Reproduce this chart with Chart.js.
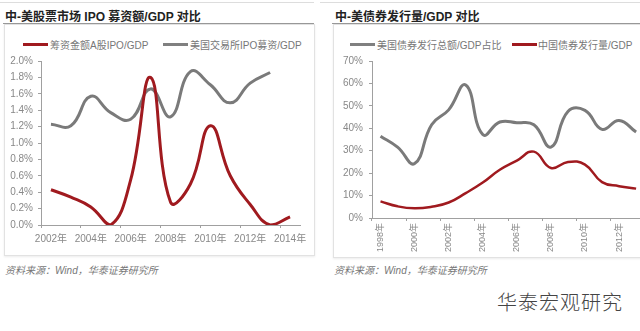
<!DOCTYPE html>
<html>
<head>
<meta charset="utf-8">
<script src="https://cdn.jsdelivr.net/npm/chart.js@4/dist/chart.umd.min.js"></script>
<style>
  html, body { margin: 0; padding: 0; background: #fff; }
  body { width: 640px; height: 331px; overflow: hidden; position: relative; font-family: "Liberation Sans", "Noto Sans CJK SC", sans-serif; }
  .abs { position: absolute; }
  .rule { position: absolute; height: 1px; }
  .title { position: absolute; top: 7px; font-size: 12px; font-weight: bold; color: #222; white-space: pre; }
  .box { position: absolute; border: 1px solid #e2e2e2; box-shadow: 0 1px 2px rgba(0,0,0,0.08); }
  .key { position: absolute; height: 3px; width: 25px; top: 43px; }
  .keytext { position: absolute; top: 37px; font-size: 10px; color: #777; white-space: nowrap; }
  .source { position: absolute; top: 262px; font-size: 10px; color: #777; font-style: italic; white-space: nowrap; }
  .mark { position: absolute; left: 497px; top: 287px; font-size: 20px; color: #444; font-family: "Noto Sans CJK SC", sans-serif; font-weight: 300; letter-spacing: 1px; }
  canvas { position: absolute; }
</style>
</head>
<body>
<div class="rule" style="left:0;top:2px;width:314px;background:#ddd"></div>
<div class="rule" style="left:320px;top:2px;width:320px;background:#ddd"></div>
<div class="title" style="left:5px">中-美股票市场 IPO 募资额/GDP 对比</div>
<div class="title" style="left:335px">中-美债券发行量/GDP 对比</div>
<div class="rule" style="left:3px;top:23px;width:311px;background:#999"></div>
<div class="rule" style="left:332px;top:23px;width:308px;background:#999"></div>
<div class="box" style="left:4px;top:24px;width:309px;height:230px"></div>
<div class="box" style="left:333px;top:24px;width:320px;height:232px"></div>

<div class="key" style="left:23px;background:#a01a1f"></div>
<div class="keytext" style="left:50px">筹资金额A股IPO/GDP</div>
<div class="key" style="left:163px;background:#808080"></div>
<div class="keytext" style="left:190px">美国交易所IPO募资/GDP</div>
<div class="key" style="left:350px;background:#808080"></div>
<div class="keytext" style="left:377px">美国债券发行总额/GDP占比</div>
<div class="key" style="left:512px;background:#a01a1f"></div>
<div class="keytext" style="left:538px">中国债券发行量/GDP</div>

<canvas id="ipoChart" width="308" height="226" style="left:5px;top:26px"></canvas>
<canvas id="bondChart" width="316" height="230" style="left:333px;top:26px"></canvas>

<div class="source" style="left:5px">资料来源：Wind，华泰证券研究所</div>
<div class="source" style="left:334px">资料来源：Wind，华泰证券研究所</div>
<div class="mark">华泰宏观研究</div>

<script>
// IPO proceeds / GDP, %
const ipoYears = ['2002年', '2003年', '2004年', '2005年', '2006年', '2007年', '2008年',
                  '2009年', '2010年', '2011年', '2012年', '2013年', '2014年'];
const aShareIpo = [0.43, 0.34, 0.22, 0.0, 0.55, 1.80, 0.28, 0.50, 1.21, 0.60, 0.25, 0.0, 0.10];
const usIpo = [1.23, 1.21, 1.57, 1.37, 1.29, 1.66, 1.32, 1.87, 1.71, 1.49, 1.73, 1.86, null];

// bond issuance / GDP, %
const bondYears = ['1998年', '1999年', '2000年', '2001年', '2002年', '2003年', '2004年', '2005年',
                   '2006年', '2007年', '2008年', '2009年', '2010年', '2011年', '2012年', '2013年'];
const usBond = [36.5, 31.6, 24.3, 41.6, 48.2, 59.3, 37.2, 42.8, 42.5, 41.6, 31.6, 47.5, 48.0, 39.5, 43.5, 38.3];
const cnBond = [7.4, 5.2, 4.3, 5.0, 6.9, 11.1, 15.8, 21.5, 25.6, 29.6, 22.3, 25.0, 23.8, 16.0, 14.2, 13.1];

const RED = '#a01a1f';
const GREY = '#7a7a7a';
const AXIS = '#a0a0a0';
const tickFont = { family: '"Liberation Sans", "Noto Sans CJK SC", sans-serif', size: 10 };

function lineSet(label, data, color, width) {
    return {
        label: label,
        data: data,
        borderColor: color,
        backgroundColor: color,
        borderWidth: width,
        pointRadius: 0,
        tension: 0.45,
        fill: false,
        spanGaps: false
    };
}

// every second category boundary gets a tick mark
const everyOther = ctx => (ctx.index % 2 === 0 ? AXIS : 'rgba(0,0,0,0)');

new Chart(document.getElementById('ipoChart'), {
    type: 'line',
    data: {
        labels: ipoYears,
        datasets: [
            lineSet('筹资金额A股IPO/GDP', aShareIpo, RED, 3),
            lineSet('美国交易所IPO募资/GDP', usIpo, GREY, 3)
        ]
    },
    options: {
        responsive: false,
        animation: false,
        layout: { padding: { top: 35, right: 13, left: 0, bottom: 0 } },
        plugins: { legend: { display: false }, tooltip: { enabled: false } },
        scales: {
            x: {
                offset: true,
                grid: { offset: true, drawOnChartArea: false, tickLength: 3, tickColor: everyOther },
                border: { color: AXIS },
                ticks: {
                    autoSkip: false, maxRotation: 0, padding: 5, color: '#888', font: tickFont,
                    callback: function (v, i) { return i % 2 === 0 ? this.getLabelForValue(v) : ''; }
                },
                afterFit: s => { s.height = 27; }
            },
            y: {
                min: 0, max: 2.0,
                grid: { drawOnChartArea: false, tickLength: 3, tickColor: AXIS },
                border: { color: AXIS },
                ticks: { stepSize: 0.2, padding: 5, color: '#888', font: tickFont, callback: v => v.toFixed(1) + '%' },
                afterFit: s => { s.width = 36; }
            }
        }
    }
});

new Chart(document.getElementById('bondChart'), {
    type: 'line',
    data: {
        labels: bondYears,
        datasets: [
            lineSet('美国债券发行总额/GDP占比', usBond, GREY, 3),
            lineSet('中国债券发行量/GDP', cnBond, RED, 2.5)
        ]
    },
    options: {
        responsive: false,
        animation: false,
        layout: { padding: { top: 35, right: 3, left: 0, bottom: 0 } },
        plugins: { legend: { display: false }, tooltip: { enabled: false } },
        scales: {
            x: {
                offset: true,
                grid: { offset: true, drawOnChartArea: false, tickLength: 3, tickColor: everyOther },
                border: { color: AXIS },
                ticks: {
                    autoSkip: false, minRotation: 90, maxRotation: 90, padding: 2, color: '#888',
                    font: { family: tickFont.family, size: 9 },
                    callback: function (v, i) { return i % 2 === 0 ? this.getLabelForValue(v) : ''; }
                },
                afterFit: s => { s.height = 38; }
            },
            y: {
                min: 0, max: 70,
                grid: { drawOnChartArea: false, tickLength: 3, tickColor: AXIS },
                border: { color: AXIS },
                ticks: { stepSize: 10, padding: 6, color: '#888', font: tickFont, callback: v => v + '%' },
                afterFit: s => { s.width = 39; }
            }
        }
    }
});
</script>
</body>
</html>
